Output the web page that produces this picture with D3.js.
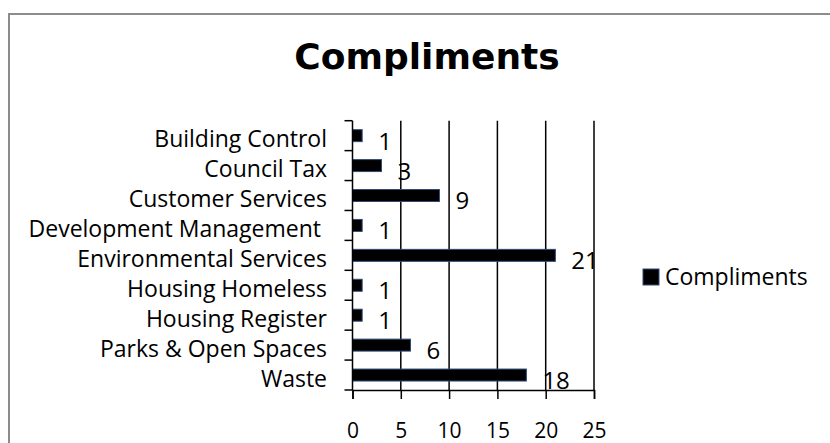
<!DOCTYPE html>
<html>
<head>
<meta charset="utf-8">
<script src="https://cdn.jsdelivr.net/npm/d3@7"></script>
<style>
  body { margin: 0; background: #fff; }
  svg text { font-family: "Open Sans", Lato, sans-serif; fill: #000; }
</style>
</head>
<body>
<div id="chart-area"></div>
<script>
const categories = ['Building Control', 'Council Tax', 'Customer Services', 'Development Management ',
    'Environmental Services', 'Housing Homeless', 'Housing Register', 'Parks & Open Spaces', 'Waste'];
const compliments = [1, 3, 9, 1, 21, 1, 1, 6, 18];
const xTicks = [0, 5, 10, 15, 20, 25];
const seriesName = 'Compliments';
const title = 'Compliments';

const width = 830;
const height = 443;

const svg = d3.select('#chart-area').append('svg')
    .attr('width', width)
    .attr('height', height);

// outer chart frame, runs off the right and bottom edge
svg.append('rect')
    .attr('x', 9).attr('y', 14)
    .attr('width', 840).attr('height', 460)
    .attr('fill', 'none')
    .attr('stroke', '#8c8c8c')
    .attr('stroke-width', 2);

const x = d3.scaleLinear()
    .domain([0, 25])
    .range([352.5, 594]);

const y = d3.scaleBand()
    .domain(categories)
    .range([120.7, 390])
    .paddingInner(0.6)
    .paddingOuter(0.3);

// title
svg.append('text')
    .attr('x', 427).attr('y', 69)
    .attr('text-anchor', 'middle')
    .style('font-family', '"DejaVu Sans", Verdana, sans-serif')
    .style('font-weight', 'bold')
    .style('font-size', '36px')
    .text(title);

// vertical gridlines
svg.append('g').selectAll('line')
    .data(xTicks.filter(d => d > 0))
    .join('line')
    .attr('x1', d => x(d)).attr('x2', d => x(d))
    .attr('y1', 120.7).attr('y2', 390)
    .attr('stroke', '#000')
    .attr('stroke-width', 1.5);

// bars
svg.append('g').selectAll('rect')
    .data(compliments)
    .join('rect')
    .attr('x', x(0))
    .attr('y', (d, i) => y(categories[i]))
    .attr('width', d => x(d) - x(0))
    .attr('height', y.bandwidth())
    .attr('fill', '#000')
    .attr('stroke', '#2f4a7a')
    .attr('stroke-width', 1);

// value labels
svg.append('g').selectAll('text')
    .data(compliments)
    .join('text')
    .attr('x', d => x(d) + 16)
    .attr('y', (d, i) => y(categories[i]) + y.bandwidth() / 2)
    .attr('dy', '0.58em')
    .style('font-size', '24px')
    .text(d => d);

// y axis with ticks at band boundaries
const yAxis = svg.append('g');
yAxis.append('line')
    .attr('x1', x(0)).attr('x2', x(0))
    .attr('y1', 120.7).attr('y2', 390)
    .attr('stroke', '#000').attr('stroke-width', 1.5);
yAxis.selectAll('line.tick')
    .data(d3.range(categories.length + 1))
    .join('line')
    .attr('class', 'tick')
    .attr('x1', x(0) - 8).attr('x2', x(0))
    .attr('y1', i => 120.7 + i * (390 - 120.7) / categories.length)
    .attr('y2', i => 120.7 + i * (390 - 120.7) / categories.length)
    .attr('stroke', '#000').attr('stroke-width', 1.5);
yAxis.selectAll('text')
    .data(categories)
    .join('text')
    .attr('x', 327)
    .attr('y', d => y(d) + y.bandwidth() / 2)
    .attr('dy', '0.5em')
    .attr('text-anchor', 'end')
    .style('font-size', '23px')
    .style('white-space', 'pre')
    .text(d => d);

// x axis
const xAxis = svg.append('g')
    .attr('transform', 'translate(0,390)')
    .call(d3.axisBottom(x).tickValues(xTicks).tickSize(9).tickPadding(24));
xAxis.select('.domain').attr('stroke', '#000').attr('stroke-width', 1.5);
xAxis.selectAll('.tick line').attr('stroke', '#000').attr('stroke-width', 1.5);
xAxis.selectAll('.tick text')
    .style('font-family', '"Open Sans", Lato, sans-serif')
    .style('font-size', '21px')
    .attr('fill', '#000');

// legend
const legend = svg.append('g').attr('transform', 'translate(643,269)');
legend.append('rect')
    .attr('width', 16).attr('height', 16)
    .attr('fill', '#000')
    .attr('stroke', '#2f4a7a');
legend.append('text')
    .attr('x', 22).attr('y', 15.5)
    .style('font-size', '23px')
    .text(seriesName);
</script>
</body>
</html>
